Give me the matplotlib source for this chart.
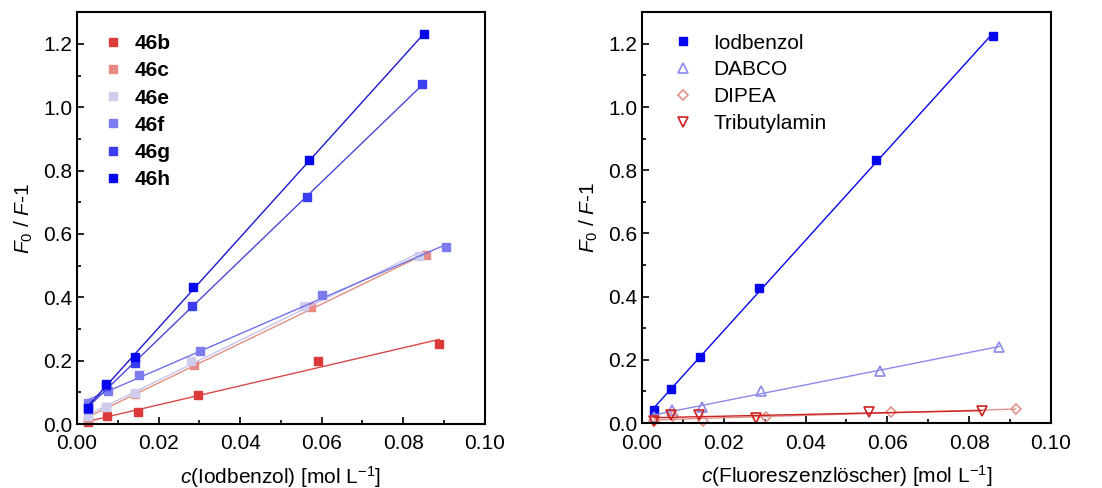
import numpy as np
import matplotlib
matplotlib.use("Agg")
import matplotlib.pyplot as plt
from matplotlib.ticker import MultipleLocator

plt.rcParams['font.family'] = ['Liberation Sans', 'DejaVu Sans']
plt.rcParams['mathtext.fontset'] = 'custom'
plt.rcParams['mathtext.rm'] = 'Liberation Sans'
plt.rcParams['mathtext.it'] = 'Liberation Sans:italic'
plt.rcParams['font.size'] = 13

# left panel: different compounds 46x vs Iodbenzol
left_names = ['46b', '46c', '46e', '46f', '46g', '46h']
left_colors = ['#dc3a3a', '#e88a84', '#cfcdee', '#7c7cf0', '#3c3cf0', '#0505ee']
line_colors = ['#d84848', '#e09080', '#c8c4ee', '#7070e8', '#4848d8', '#1818d0']
left_x = [
    [0.0027, 0.0073, 0.0149, 0.0297, 0.0592, 0.0888],
    [0.0027, 0.0072, 0.0143, 0.0287, 0.0573, 0.0857],
    [0.0027, 0.0070, 0.0141, 0.0280, 0.0556, 0.0838],
    [0.0027, 0.0075, 0.0151, 0.0302, 0.0602, 0.0906],
    [0.0027, 0.0072, 0.0141, 0.0283, 0.0564, 0.0847],
    [0.0027, 0.0070, 0.0142, 0.0285, 0.0570, 0.0852],
]
left_y = [
    [0.005, 0.024, 0.037, 0.093, 0.200, 0.253],
    [0.014, 0.054, 0.096, 0.186, 0.368, 0.534],
    [0.024, 0.054, 0.098, 0.198, 0.373, 0.531],
    [0.065, 0.103, 0.155, 0.232, 0.406, 0.560],
    [0.046, 0.119, 0.193, 0.374, 0.716, 1.072],
    [0.050, 0.127, 0.212, 0.433, 0.835, 1.230],
]

# right panel: different quenchers
right_names = ['Iodbenzol', 'DABCO', 'DIPEA', 'Tributylamin']
right_colors = ['#0505ee', '#8a8ae8', '#e0938c', '#cc2020']
right_markers = ['s', '^', 'D', 'v']
right_x = [
    [0.0029, 0.0072, 0.0143, 0.0286, 0.0573, 0.0858],
    [0.0029, 0.0073, 0.0147, 0.0290, 0.0583, 0.0874],
    [0.0029, 0.0076, 0.0150, 0.0304, 0.0608, 0.0914],
    [0.0030, 0.0070, 0.0139, 0.0278, 0.0554, 0.0831],
]
right_y = [
    [0.040, 0.108, 0.210, 0.428, 0.831, 1.226],
    [0.020, 0.042, 0.050, 0.103, 0.166, 0.241],
    [0.008, 0.021, 0.008, 0.019, 0.035, 0.044],
    [0.008, 0.026, 0.027, 0.017, 0.034, 0.039],
]

fig = plt.figure(figsize=(11.02, 4.88), dpi=100)
ax1 = fig.add_axes([0.0699, 0.131, 0.370, 0.844])
ax2 = fig.add_axes([0.5826, 0.133, 0.371, 0.842])


def style(ax, xlabel):
    ax.set_xlim(0, 0.1)
    ax.set_ylim(0, 1.3)
    ax.xaxis.set_major_locator(MultipleLocator(0.02))
    ax.xaxis.set_minor_locator(MultipleLocator(0.01))
    ax.yaxis.set_major_locator(MultipleLocator(0.2))
    ax.yaxis.set_minor_locator(MultipleLocator(0.1))
    ax.xaxis.set_major_formatter(plt.FuncFormatter(lambda v, p: f"{v:.2f}"))
    ax.yaxis.set_major_formatter(plt.FuncFormatter(lambda v, p: f"{v:.1f}"))
    ax.tick_params(which='both', direction='in', top=False, right=False,
                   width=1.2, labelsize=15)
    ax.tick_params(which='major', length=5)
    ax.tick_params(which='minor', length=3)
    ax.tick_params(axis='x', which='major', pad=7.5)
    for s in ax.spines.values():
        s.set_linewidth(1.5)
    ax.set_xlabel(xlabel, fontsize=15, labelpad=7.5)
    ax.set_ylabel(r'$\mathit{F}_0$ / $\mathit{F}$-1', fontsize=15, labelpad=6)


for name, c, lc, xs, ys in zip(left_names, left_colors, line_colors, left_x, left_y):
    xs = np.array(xs)
    ys = np.array(ys)
    k, d = np.polyfit(xs, ys, 1)
    ax1.plot([xs[0], xs[-1]], [k * xs[0] + d, k * xs[-1] + d], color=lc, lw=1.0)
    ax1.plot(xs, ys, 's', color=c, ms=6, label=name, clip_on=False)

style(ax1, r'$\mathit{c}$(Iodbenzol) [mol L$^{-1}$]')
ax1.legend(loc='upper left', frameon=False, handletextpad=0.45,
           borderaxespad=0.8, labelspacing=0.39, handlelength=1.2,
           prop={'weight': 'bold', 'size': 15}, bbox_to_anchor=(-0.004, 1.007))

for name, c, m, xs, ys in zip(right_names, right_colors, right_markers, right_x, right_y):
    xs = np.array(xs)
    ys = np.array(ys)
    k, d = np.polyfit(xs, ys, 1)
    ax2.plot([xs[0], xs[-1]], [k * xs[0] + d, k * xs[-1] + d], color=c, lw=1.0)
    if m == 's':
        ax2.plot(xs, ys, m, color=c, ms=6, label=name, clip_on=False)
    else:
        ax2.plot(xs, ys, m, mfc='none', mec=c, mew=1.2,
                 ms=5.5 if m == 'D' else 6.5, label=name, clip_on=False)

style(ax2, r'$\mathit{c}$(Fluoreszenzlöscher) [mol L$^{-1}$]')
ax2.legend(loc='upper left', frameon=False, handletextpad=0.84,
           borderaxespad=0.8, labelspacing=0.38, handlelength=1.2,
           prop={'size': 15}, bbox_to_anchor=(0.009, 1.009))

fig.savefig('out.png', dpi=100)
